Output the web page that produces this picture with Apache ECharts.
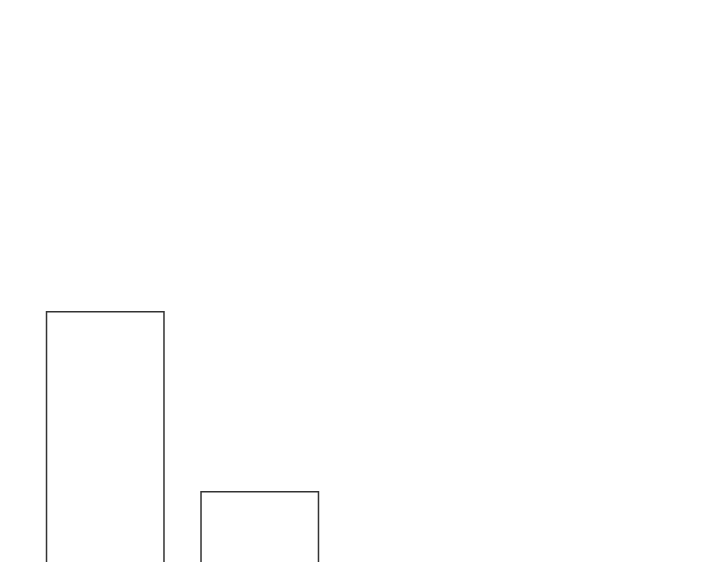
<!DOCTYPE html>
<html>
<head>
<meta charset="utf-8">
<script src="https://cdn.jsdelivr.net/npm/echarts@6/dist/echarts.min.js"></script>
<style>
  html, body { margin: 0; padding: 0; background: #fff; overflow: hidden; }
  /* taller than the window: the bars' baseline is cut off below the picture */
  #chart { width: 720px; height: 640px; }
</style>
</head>
<body>
<div id="chart"></div>
<script>
const categories = ['A', 'B'];
const values = [300, 120];

const chart = echarts.init(document.getElementById('chart'));
chart.setOption({
  animation: false,
  grid: { left: 28, top: 11, width: 309, height: 600 },
  xAxis: {
    type: 'category',
    data: categories,
    show: false
  },
  yAxis: {
    type: 'value',
    min: 0,
    max: 600,
    show: false
  },
  series: [
    {
      type: 'bar',
      data: values,
      barCategoryGap: '23%',
      itemStyle: {
        color: '#fff',
        borderColor: '#333',
        borderWidth: 1.5
      }
    }
  ]
});
</script>
</body>
</html>
